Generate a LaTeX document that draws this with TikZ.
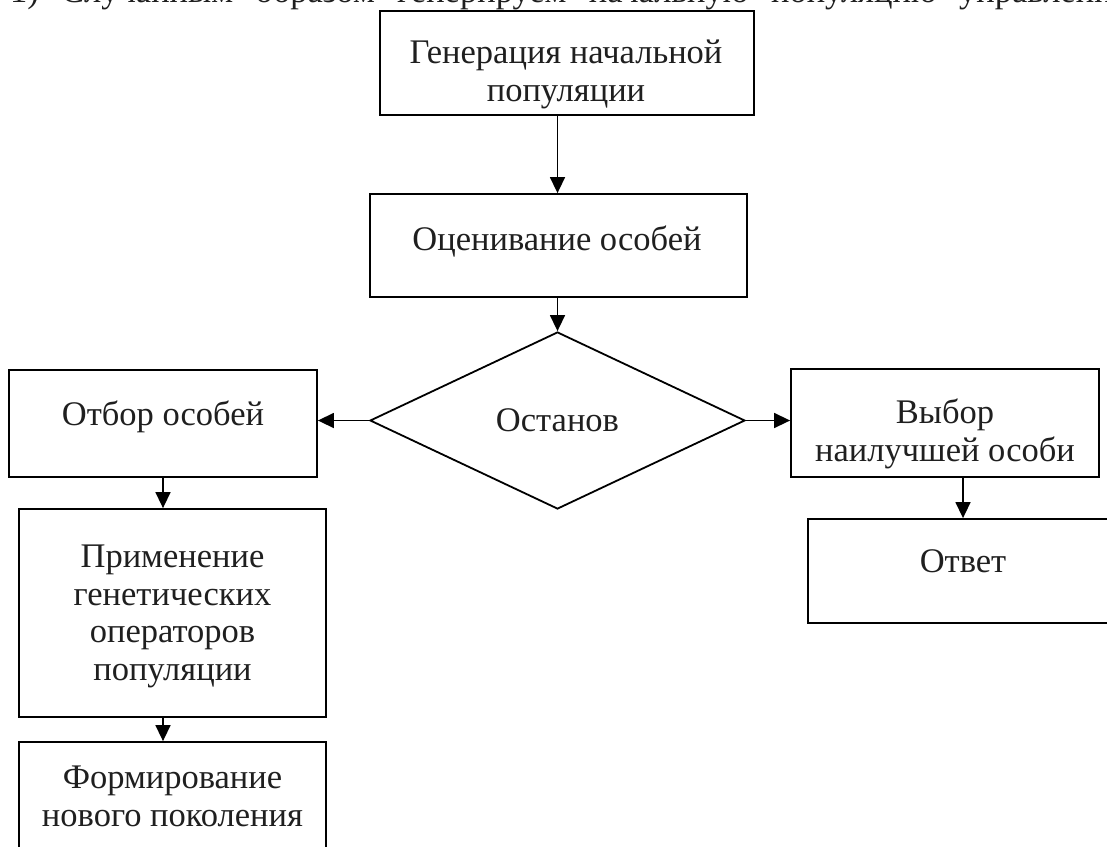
\documentclass[tikz,border=0pt]{standalone}
\usepackage{fontspec}
\setmainfont{Liberation Serif}
\usetikzlibrary{arrows.meta,shapes.geometric}
\begin{document}
\begin{tikzpicture}[x=1pt,y=-1pt,
  box/.style={draw=black, line width=1.8pt, inner sep=0pt, rectangle},
  lbl/.style={inner sep=0pt, outer sep=0pt, align=center, text=black!88, font=\fontsize{34.5}{37.5}\selectfont, anchor=base},
  arr/.style={line width=1.5pt, -{Triangle[length=16pt,width=15pt]}},
]
\useasboundingbox (0,0) rectangle (1107,846);
\clip (0,0) rectangle (1107,846);
\node[inner sep=0pt, outer sep=0pt, anchor=base west, text=black!88, font=\fontsize{34.5}{37.5}\selectfont] (topline) at (10,2) {\spaceskip=22.4pt\relax 1) Случайным образом генерируем начальную популяцию управления};

\node[box, minimum width=374pt, minimum height=104pt] (gen) at (567,63) {};
\node[lbl] (gentxt) at (566,101) {Генерация начальной\\популяции};
\node[box, minimum width=377pt, minimum height=103pt] (eval) at (558.5,245.5) {};
\node[lbl] (evaltxt) at (557,250) {Оценивание особей};
\node[diamond, draw=black, line width=1.8pt, minimum width=375pt, minimum height=177pt, inner sep=0pt, text=black!88, font=\fontsize{34.5}{37.5}\selectfont] (stop) at (557.5,420.5) {Останов};
\node[box, minimum width=308pt, minimum height=107pt] (otbor) at (163,423.5) {};
\node[lbl] (otbortxt) at (163,425) {Отбор особей};
\node[box, minimum width=307pt, minimum height=208pt] (prim) at (172.5,613) {};
\node[lbl] (primtxt) at (172.5,680) {Применение\\генетических\\операторов\\популяции};
\node[box, minimum width=307pt, minimum height=140pt] (form) at (172.5,812) {};
\node[lbl] (formtxt) at (172.5,826) {Формирование\\нового поколения};
\node[box, minimum width=308pt, minimum height=108pt] (vybor) at (945,423) {};
\node[lbl] (vybortxt) at (945,461) {Выбор\\наилучшей особи};
\node[box, minimum width=310pt, minimum height=104pt] (otvet) at (963,571) {};
\node[lbl] (otvettxt) at (963,572) {Ответ};

\draw[arr] (gen.south -| stop.north) -- (eval.north -| stop.north);
\draw[arr] (eval.south -| stop.north) -- (stop.north);
\draw[arr] (stop.west) -- (stop.west -| otbor.east);
\draw[arr] (stop.east) -- (stop.east -| vybor.west);
\draw[arr] (otbor.south) -- (otbor.south |- prim.north);
\draw[arr] (prim.south -| otbor.south) -- (form.north -| otbor.south);
\draw[arr] (vybor.south -| otvet.north) -- (otvet.north);
\end{tikzpicture}
\end{document}
